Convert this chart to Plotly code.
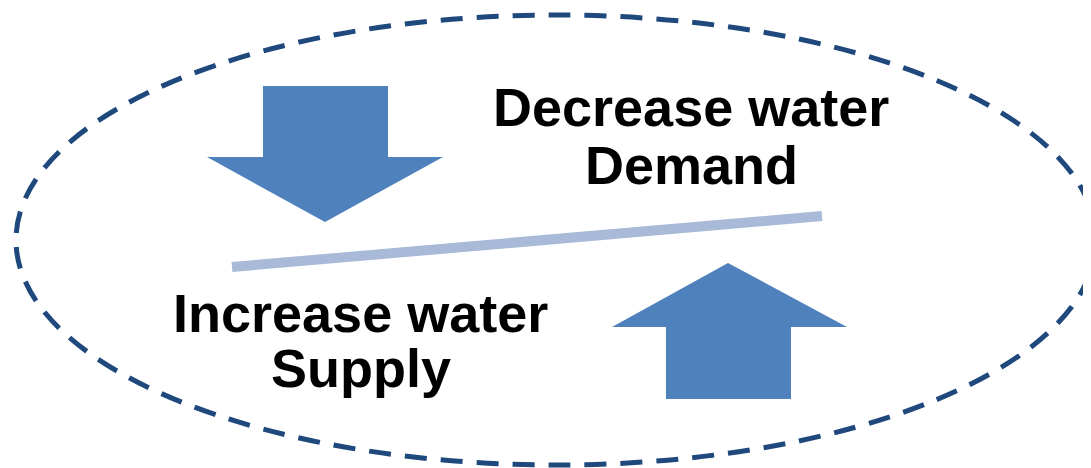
import plotly.graph_objects as go

# ─── Diagram data (pixel space, y grows downward) ────────────────────────────

DOWN_ARROW_X = [263, 388, 388, 443, 325, 207, 263, 263]
DOWN_ARROW_Y = [86, 86, 157, 157, 222, 157, 157, 86]

UP_ARROW_X = [666, 791, 791, 847, 728, 612, 666, 666]
UP_ARROW_Y = [399, 399, 327, 327, 263, 327, 327, 399]

BALANCE_X = [232, 822]
BALANCE_Y = [267, 216]

DEMAND_LINES = ["Decrease water", "Demand"]
DEMAND_X = [691, 691]
DEMAND_Y = [107, 165]

SUPPLY_LINES = ["Increase water", "Supply"]
SUPPLY_X = [360, 361]
SUPPLY_Y = [313, 368]

ELLIPSE = dict(x0=16, x1=1096, y0=15, y1=465)

# ─── Colors ───────────────────────────────────────────────────────────────────

ARROW  = "#4F81BD"
BEAM   = "#A8BAD8"
BORDER = "#1F497D"
W, H = 1091, 468
PAGE_PAD = 8  # default body margin of the html page

fig = go.Figure()

for xs, ys in [(DOWN_ARROW_X, DOWN_ARROW_Y), (UP_ARROW_X, UP_ARROW_Y)]:
    fig.add_trace(go.Scatter(
        x=xs, y=ys, mode="lines", fill="toself",
        fillcolor=ARROW, line=dict(color=ARROW, width=0),
        hoverinfo="skip", showlegend=False,
    ))

fig.add_trace(go.Scatter(
    x=BALANCE_X, y=BALANCE_Y, mode="lines",
    line=dict(color=BEAM, width=10),
    hoverinfo="skip", showlegend=False,
))

for lines, xs, ys in [(DEMAND_LINES, DEMAND_X, DEMAND_Y),
                      (SUPPLY_LINES, SUPPLY_X, SUPPLY_Y)]:
    for t, x, y in zip(lines, xs, ys):
        fig.add_annotation(
            x=x, y=y, text=f"<b>{t}</b>", showarrow=False,
            xanchor="center", yanchor="middle",
            font=dict(family="Liberation Sans, Arial, sans-serif",
                      size=54, color="#000000"),
        )

fig.add_shape(
    type="circle", xref="x", yref="y", **ELLIPSE,
    line=dict(color=BORDER, width=5, dash="22px,14px"),
)

fig.update_layout(
    width=W, height=H,
    margin=dict(l=0, r=0, t=0, b=0),
    paper_bgcolor="white", plot_bgcolor="white",
    xaxis=dict(range=[PAGE_PAD, W + PAGE_PAD], visible=False, fixedrange=True),
    yaxis=dict(range=[H + PAGE_PAD, PAGE_PAD], visible=False, fixedrange=True),
)

fig.write_html("out.html")
